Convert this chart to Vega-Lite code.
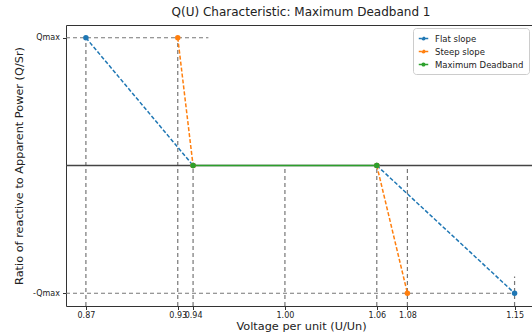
{
  "$schema": "https://vega.github.io/schema/vega-lite/v6.json",
  "width": 470,
  "height": 281,
  "autosize": {"type": "none"},
  "padding": {"left": 66, "top": 25, "right": 0, "bottom": 29},
  "background": "white",
  "config": {
    "font": "DejaVu Sans",
    "view": {"stroke": "#333", "strokeWidth": 1},
    "axis": {"grid": false, "domain": false, "tickColor": "#333", "labelColor": "#222", "titleColor": "#222", "titleFontWeight": "normal", "labelFontSize": 8, "titleFontSize": 11.3, "tickSize": 3.5}
  },
  "title": {"text": "Q(U) Characteristic: Maximum Deadband 1", "fontSize": 12, "fontWeight": "normal", "color": "#222", "offset": 6},
  "datasets": {
    "vlines": [
      {"x": 0.87, "ytop": 1, "ybot": -1.1},
      {"x": 0.93, "ytop": 1, "ybot": -1.1},
      {"x": 0.94, "ytop": 0, "ybot": -1.1},
      {"x": 1.0, "ytop": 0, "ybot": -1.1},
      {"x": 1.06, "ytop": 0, "ybot": -1.1},
      {"x": 1.08, "ytop": 0, "ybot": -1.1},
      {"x": 1.15, "ytop": -0.87, "ybot": -1.1}
    ],
    "hlines": [
      {"y": 1, "x1": 0.857, "x2": 0.95},
      {"y": -1, "x1": 0.857, "x2": 1.15}
    ],
    "curves": [
      {"series": "Flat slope", "seg": "f1", "u": 0.87, "q": 1},
      {"series": "Flat slope", "seg": "f1", "u": 0.94, "q": 0},
      {"series": "Flat slope", "seg": "f2", "u": 1.06, "q": 0},
      {"series": "Flat slope", "seg": "f2", "u": 1.15, "q": -1},
      {"series": "Steep slope", "seg": "s1", "u": 0.93, "q": 1},
      {"series": "Steep slope", "seg": "s1", "u": 0.94, "q": 0},
      {"series": "Steep slope", "seg": "s2", "u": 1.06, "q": 0},
      {"series": "Steep slope", "seg": "s2", "u": 1.08, "q": -1},
      {"series": "Maximum Deadband", "seg": "m1", "u": 0.94, "q": 0},
      {"series": "Maximum Deadband", "seg": "m1", "u": 1.06, "q": 0}
    ]
  },
  "layer": [
    {
      "data": {"name": "vlines"},
      "mark": {"type": "rule", "color": "#777", "strokeDash": [4, 3], "strokeWidth": 1.2},
      "encoding": {
        "x": {"field": "x", "type": "quantitative", "scale": {"domain": [0.857, 1.164], "nice": false, "zero": false},
          "axis": {"values": [0.87, 0.93, 0.94, 1.0, 1.06, 1.08, 1.15], "format": ".2f", "labelOverlap": false, "title": "Voltage per unit (U/Un)", "labelPadding": 2, "titlePadding": 1}},
        "y": {"field": "ybot", "type": "quantitative", "scale": {"domain": [-1.1, 1.1], "nice": false, "zero": false},
          "axis": {"values": [-1, 1], "labelExpr": "datum.value > 0 ? 'Qmax' : '-Qmax'", "title": "Ratio of reactive to Apparent Power (Q/Sr)", "labelPadding": 3, "titlePadding": 8}},
        "y2": {"field": "ytop"}
      }
    },
    {
      "data": {"name": "hlines"},
      "mark": {"type": "rule", "color": "#777", "strokeDash": [4, 3], "strokeWidth": 1.2},
      "encoding": {
        "y": {"field": "y", "type": "quantitative"},
        "x": {"field": "x1", "type": "quantitative"},
        "x2": {"field": "x2"}
      }
    },
    {
      "data": {"values": [{"y": 0}]},
      "mark": {"type": "rule", "color": "#444", "strokeWidth": 1.4},
      "encoding": {"y": {"field": "y", "type": "quantitative"}}
    },
    {
      "data": {"name": "curves"},
      "mark": {"type": "line", "strokeWidth": 1.5},
      "encoding": {
        "x": {"field": "u", "type": "quantitative"},
        "y": {"field": "q", "type": "quantitative"},
        "detail": {"field": "seg"},
        "color": {"field": "series", "type": "nominal", "scale": {"domain": ["Flat slope", "Steep slope", "Maximum Deadband"], "range": ["#1f77b4", "#ff7f0e", "#2ca02c"]},
          "legend": {"title": null, "orient": "none", "legendX": 347, "legendY": 3, "labelFontSize": 8.5, "labelColor": "#222", "strokeColor": "#ccc", "fillColor": "white", "padding": 5, "cornerRadius": 3, "rowPadding": 3, "symbolSize": 90, "symbolStrokeWidth": 1.3, "labelOffset": 6,
            "symbolType": "M-1,0L-0.35,0M0.35,0L1,0M0.3,0A0.3,0.3 0 1,1 -0.3,0A0.3,0.3 0 1,1 0.3,0"}},
        "strokeDash": {"field": "series", "type": "nominal", "scale": {"domain": ["Flat slope", "Steep slope", "Maximum Deadband"], "range": [[4, 2], [4, 2], [1, 0]]}, "legend": null}
      }
    },
    {
      "data": {"name": "curves"},
      "mark": {"type": "point", "filled": true, "size": 30, "opacity": 1},
      "encoding": {
        "x": {"field": "u", "type": "quantitative"},
        "y": {"field": "q", "type": "quantitative"},
        "color": {"field": "series", "type": "nominal",
          "legend": {"title": null, "orient": "none", "legendX": 347, "legendY": 3, "labelFontSize": 8.5, "labelColor": "#222", "strokeColor": "#ccc", "fillColor": "white", "padding": 5, "cornerRadius": 3, "rowPadding": 3, "symbolSize": 90, "symbolStrokeWidth": 1.3, "labelOffset": 6,
            "symbolType": "M-1,0L-0.35,0M0.35,0L1,0M0.3,0A0.3,0.3 0 1,1 -0.3,0A0.3,0.3 0 1,1 0.3,0"}}
      }
    }
  ]
}
